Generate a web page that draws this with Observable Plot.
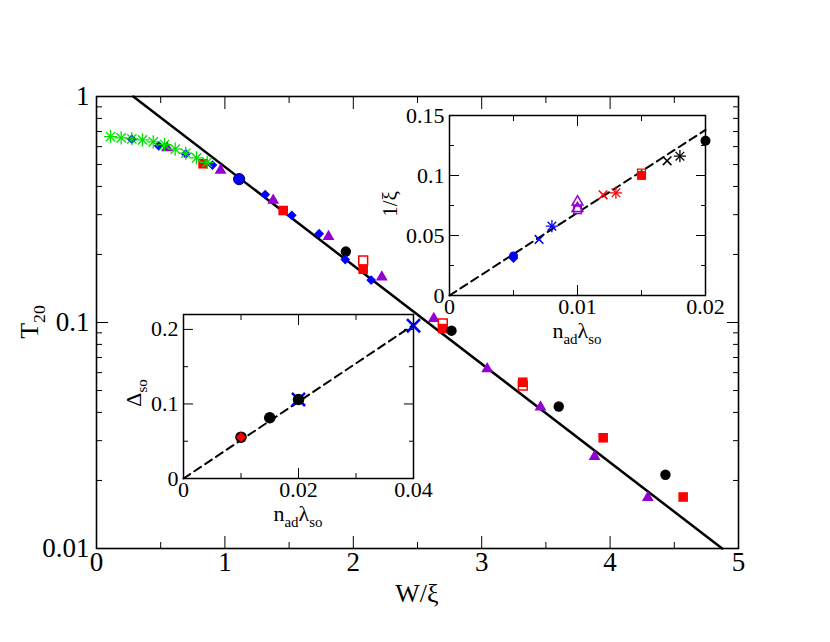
<!DOCTYPE html>
<html><head><meta charset="utf-8">
<script src="https://cdn.jsdelivr.net/npm/d3@7"></script>
<script src="https://cdn.jsdelivr.net/npm/@observablehq/plot@0.6"></script>
<style>
body{margin:0;background:#fff;}
#wrap{position:relative;width:830px;height:642px;background:#fff;}
#wrap svg{position:absolute;overflow:visible;}
#wrap svg text{font-family:'Liberation Serif','Times New Roman',serif !important;font-variant:normal !important;}
</style></head><body><div id="wrap"></div>
<script>
// ---------- main panel data (W/xi, T20) ----------
const greenW = [0.109,0.192,0.275,0.358,0.442,0.530,0.613,0.695,0.779,0.862];
const greenT = [0.665,0.656,0.650,0.643,0.630,0.613,0.585,0.561,0.535,0.511];
const diamondW = [0.275,0.485,0.695,0.903,1.314,1.521,1.734,1.937,2.139];
const diamondT = [0.647,0.605,0.557,0.497,0.368,0.298,0.247,0.190,0.154];
const blueCircleW = [1.111];
const blueCircleT = [0.431];
const triW = [0.55,0.966,1.376,1.807,2.222,2.627,3.043,3.458,3.879,4.294];
const triT = [0.593,0.471,0.347,0.240,0.159,0.104,0.0624,0.0422,0.0255,0.0168];
const sqW = [0.83,1.454,2.077,2.697,3.32,3.946,4.569];
const sqT = [0.504,0.313,0.172,0.094,0.0544,0.0309,0.0169];
const openSqW = [2.077,2.697,3.32];
const openSqT = [0.188,0.099,0.0526];
const blackW = [1.942,2.765,3.60,4.431];
const blackT = [0.206,0.092,0.0425,0.0212];
const fitW = [0.286,4.873];
const fitT = [1,0.01];
const mainXTicks = [0,1,2,3,4,5];
const mainXMinor = [0.5,1.5,2.5,3.5,4.5];
const mainYTicks = [0.01,0.1,1];
const mainYMinor = [0.02,0.03,0.04,0.05,0.06,0.07,0.08,0.09,0.2,0.3,0.4,0.5,0.6,0.7,0.8,0.9];

// ---------- inset 1 data (n_ad*lambda_so, 1/xi) ----------
const i1BlueCircleX = [0.005], i1BlueCircleY = [0.033];
const i1BlueDiamondX = [0.005], i1BlueDiamondY = [0.031];
const i1BlueTimesX = [0.007], i1BlueTimesY = [0.0467];
const i1BlueAstX = [0.008], i1BlueAstY = [0.0578];
const i1PurpleTriX = [0.010,0.010], i1PurpleTriY = [0.078,0.0725];
const i1PurpleSqX = [0.010], i1PurpleSqY = [0.0715];
const i1RedTimesX = [0.012], i1RedTimesY = [0.0839];
const i1RedAstX = [0.013], i1RedAstY = [0.0856];
const i1RedSqX = [0.015], i1RedSqY = [0.100];
const i1RedOpenSqX = [0.015], i1RedOpenSqY = [0.102];
const i1BlackTimesX = [0.017], i1BlackTimesY = [0.1122];
const i1BlackAstX = [0.018], i1BlackAstY = [0.1161];
const i1BlackCircleX = [0.020], i1BlackCircleY = [0.129];
const i1FitX = [0,0.02], i1FitY = [0,0.138];
const i1XTicks = [0,0.01,0.02], i1XMinor = [0.005,0.015];
const i1YTicks = [0,0.05,0.1,0.15], i1YMinor = [0.025,0.075,0.125];

// ---------- inset 2 data (n_ad*lambda_so, Delta_so) ----------
const i2BlackX = [0.010,0.015,0.020], i2BlackY = [0.0554,0.0815,0.106];
const i2RedDiamondX = [0.010], i2RedDiamondY = [0.0554];
const i2BlueTimesX = [0.020,0.040], i2BlueTimesY = [0.106,0.205];
const i2FitX = [0,0.04], i2FitY = [0,0.206];
const i2XTicks = [0,0.02,0.04], i2XMinor = [0.01,0.03];
const i2YTicks = [0,0.1,0.2], i2YMinor = [0.05,0.15];

const GREEN = "#00e000", BLUE = "#0000ff", RED = "#ff0000", PURPLE = "#9400d3", BLACK = "#000";
const FONT = "'Liberation Serif', 'Times New Roman', serif";

const rows = (xs, ys) => xs.map((x, i) => ({x, y: ys[i]}));

// inward ticks on all four sides + labels on bottom/left
function frameAxes(xMaj, xMin, yMaj, yMin, maj, mnr, fs, padX, padY) {
  const none = () => "";
  return [
    Plot.axisX(xMaj, {anchor: "bottom", tickSize: maj, dy: -maj, tickFormat: none, label: null}),
    Plot.axisX(xMin, {anchor: "bottom", tickSize: mnr, dy: -mnr, tickFormat: none, label: null}),
    Plot.axisX(xMaj, {anchor: "top", tickSize: maj, dy: maj, tickFormat: none, label: null}),
    Plot.axisX(xMin, {anchor: "top", tickSize: mnr, dy: mnr, tickFormat: none, label: null}),
    Plot.axisY(yMaj, {anchor: "left", tickSize: maj, dx: maj, tickFormat: none, label: null}),
    Plot.axisY(yMin, {anchor: "left", tickSize: mnr, dx: mnr, tickFormat: none, label: null}),
    Plot.axisY(yMaj, {anchor: "right", tickSize: maj, dx: -maj, tickFormat: none, label: null}),
    Plot.axisY(yMin, {anchor: "right", tickSize: mnr, dx: -mnr, tickFormat: none, label: null}),
    Plot.axisX(xMaj, {anchor: "bottom", tickSize: 0, tickPadding: padX, tickFormat: String, fontSize: fs, fill: "black", label: null}),
    Plot.axisY(yMaj, {anchor: "left", tickSize: 0, tickPadding: padY, tickFormat: String, fontSize: fs, fill: "black", label: null})
  ];
}

const wrap = document.getElementById("wrap");

// ---------- main plot ----------
const main = Plot.plot({
  width: 830, height: 642,
  marginLeft: 96, marginRight: 92, marginTop: 96, marginBottom: 94,
  x: {domain: [0, 5]},
  y: {type: "log", domain: [0.01, 1]},
  style: {background: "white", fontFamily: FONT, color: "black", overflow: "visible"},
  marks: [
    ...frameAxes(mainXTicks, mainXMinor, mainYTicks, mainYMinor, 12, 6, 27, 3, 7),
    Plot.line(rows(fitW, fitT), {x: "x", y: "y", stroke: BLACK, strokeWidth: 2.5}),
    Plot.dot(rows(triW, triT), {x: "x", y: "y", symbol: "triangle", r: 4.4, fill: PURPLE}),
    Plot.dot(rows(openSqW, openSqT), {x: "x", y: "y", symbol: "square", r: 5, fill: "white", stroke: RED, strokeWidth: 1.5}),
    Plot.dot(rows(sqW, sqT), {x: "x", y: "y", symbol: "square", r: 5.4, fill: RED}),
    Plot.dot(rows(blackW, blackT), {x: "x", y: "y", symbol: "circle", r: 5.2, fill: BLACK}),
    Plot.dot(rows(diamondW, diamondT), {x: "x", y: "y", symbol: "diamond2", r: 4.4, fill: BLUE}),
    Plot.dot(rows(blueCircleW, blueCircleT), {x: "x", y: "y", symbol: "circle", r: 5.6, fill: BLUE, stroke: "#000060", strokeWidth: 1}),
    Plot.dot(rows(greenW, greenT), {x: "x", y: "y", symbol: "plus", r: 4.3, stroke: GREEN, strokeWidth: 1.3}),
    Plot.dot(rows(greenW, greenT), {x: "x", y: "y", symbol: "times", r: 4.3, stroke: GREEN, strokeWidth: 1.3}),
    Plot.frame({stroke: BLACK, strokeWidth: 1.6})
  ]
});
main.style.left = "0px"; main.style.top = "0px";
wrap.appendChild(main);

// ---------- inset 1 ----------
const in1 = Plot.plot({
  width: 356, height: 260,
  marginLeft: 70, marginRight: 30, marginTop: 20, marginBottom: 60,
  x: {domain: [0, 0.02]},
  y: {domain: [0, 0.15]},
  style: {background: "transparent", fontFamily: FONT, color: "black", overflow: "visible"},
  marks: [
    Plot.frame({fill: "white", stroke: "none"}),
    ...frameAxes(i1XTicks, i1XMinor, i1YTicks, i1YMinor, 10, 5, 22, 3, 5),
    Plot.line(rows(i1FitX, i1FitY), {x: "x", y: "y", stroke: BLACK, strokeWidth: 2, strokeDasharray: "8,5"}),
    Plot.dot(rows(i1BlueCircleX, i1BlueCircleY), {x: "x", y: "y", symbol: "circle", r: 4.5, fill: BLUE}),
    Plot.dot(rows(i1BlueDiamondX, i1BlueDiamondY), {x: "x", y: "y", symbol: "diamond2", r: 4.3, fill: BLUE}),
    Plot.dot(rows(i1BlueTimesX, i1BlueTimesY), {x: "x", y: "y", symbol: "times", r: 4, stroke: BLUE, strokeWidth: 1.6}),
    Plot.dot(rows(i1BlueAstX, i1BlueAstY), {x: "x", y: "y", symbol: "plus", r: 4, stroke: BLUE, strokeWidth: 1.3}),
    Plot.dot(rows(i1BlueAstX, i1BlueAstY), {x: "x", y: "y", symbol: "times", r: 4, stroke: BLUE, strokeWidth: 1.3}),
    Plot.dot(rows(i1PurpleSqX, i1PurpleSqY), {x: "x", y: "y", symbol: "square", r: 4.3, fill: "white", stroke: PURPLE, strokeWidth: 1.5}),
    Plot.dot(rows(i1PurpleTriX, i1PurpleTriY), {x: "x", y: "y", symbol: "triangle", r: 4, fill: "none", stroke: PURPLE, strokeWidth: 1.5}),
    Plot.dot(rows(i1RedTimesX, i1RedTimesY), {x: "x", y: "y", symbol: "times", r: 4, stroke: RED, strokeWidth: 1.6}),
    Plot.dot(rows(i1RedAstX, i1RedAstY), {x: "x", y: "y", symbol: "plus", r: 4, stroke: RED, strokeWidth: 1.3}),
    Plot.dot(rows(i1RedAstX, i1RedAstY), {x: "x", y: "y", symbol: "times", r: 4, stroke: RED, strokeWidth: 1.3}),
    Plot.dot(rows(i1RedSqX, i1RedSqY), {x: "x", y: "y", symbol: "square", r: 5, fill: RED}),
    Plot.dot(rows(i1RedOpenSqX, i1RedOpenSqY), {x: "x", y: "y", symbol: "square", r: 4.5, fill: "none", stroke: RED, strokeWidth: 1.2}),
    Plot.dot(rows(i1BlackTimesX, i1BlackTimesY), {x: "x", y: "y", symbol: "times", r: 4, stroke: BLACK, strokeWidth: 1.6}),
    Plot.dot(rows(i1BlackAstX, i1BlackAstY), {x: "x", y: "y", symbol: "plus", r: 4, stroke: BLACK, strokeWidth: 1.3}),
    Plot.dot(rows(i1BlackAstX, i1BlackAstY), {x: "x", y: "y", symbol: "times", r: 4, stroke: BLACK, strokeWidth: 1.3}),
    Plot.dot(rows(i1BlackCircleX, i1BlackCircleY), {x: "x", y: "y", symbol: "circle", r: 5, fill: BLACK}),
    Plot.frame({stroke: BLACK, strokeWidth: 1.5})
  ]
});
in1.style.left = "379px"; in1.style.top = "95px";
wrap.appendChild(in1);

// ---------- inset 2 ----------
const in2 = Plot.plot({
  width: 330, height: 239,
  marginLeft: 60, marginRight: 40, marginTop: 15, marginBottom: 60,
  x: {domain: [0, 0.04]},
  y: {domain: [0, 0.22]},
  style: {background: "transparent", fontFamily: FONT, color: "black", overflow: "visible"},
  marks: [
    Plot.frame({fill: "white", stroke: "none"}),
    ...frameAxes(i2XTicks, i2XMinor, i2YTicks, i2YMinor, 10, 5, 22, 3, 5),
    Plot.line(rows(i2FitX, i2FitY), {x: "x", y: "y", stroke: BLACK, strokeWidth: 2, strokeDasharray: "8,5"}),
    Plot.dot(rows(i2BlueTimesX, i2BlueTimesY), {x: "x", y: "y", symbol: "times", r: 6, stroke: BLUE, strokeWidth: 2.6}),
    Plot.dot(rows(i2BlackX, i2BlackY), {x: "x", y: "y", symbol: "circle", r: 5.8, fill: BLACK}),
    Plot.dot(rows(i2RedDiamondX, i2RedDiamondY), {x: "x", y: "y", symbol: "diamond2", r: 4.6, fill: RED}),
    Plot.frame({stroke: BLACK, strokeWidth: 1.5})
  ]
});
in2.style.left = "123px"; in2.style.top = "299px";
wrap.appendChild(in2);

// ---------- axis titles (with sub-scripts) ----------
const ns = "http://www.w3.org/2000/svg";
const over = d3.select(wrap).append("svg")
  .attr("xmlns", ns).attr("width", 830).attr("height", 642)
  .style("left", "0px").style("top", "0px").style("pointer-events", "none")
  .style("font-family", FONT);

function label(x, y, parts, size, rotate) {
  const t = over.append("text")
    .attr("transform", `translate(${x},${y})` + (rotate ? " rotate(-90)" : ""))
    .attr("text-anchor", "middle").attr("fill", "black").attr("font-size", size);
  let shift = 0;
  for (const [txt, sub] of parts) {
    const dy = sub ? (shift === 0 ? size * 0.28 : 0) : (shift !== 0 ? -shift : 0);
    const sp = t.append("tspan").text(txt).attr("font-size", sub ? size * 0.68 : size);
    if (dy) sp.attr("dy", dy);
    shift = sub ? size * 0.28 : 0;
  }
}
label(417, 602, [["W/ξ", false]], 26, false);
label(38, 322, [["T", false], ["20", true]], 26, true);
label(577, 338, [["n", false], ["ad", true], ["λ", false], ["so", true]], 22, false);
label(397, 204, [["1/ξ", false]], 21, true);
label(298, 521, [["n", false], ["ad", true], ["λ", false], ["so", true]], 22, false);
label(141, 393, [["Δ", false], ["so", true]], 22, true);
</script>
</body></html>
